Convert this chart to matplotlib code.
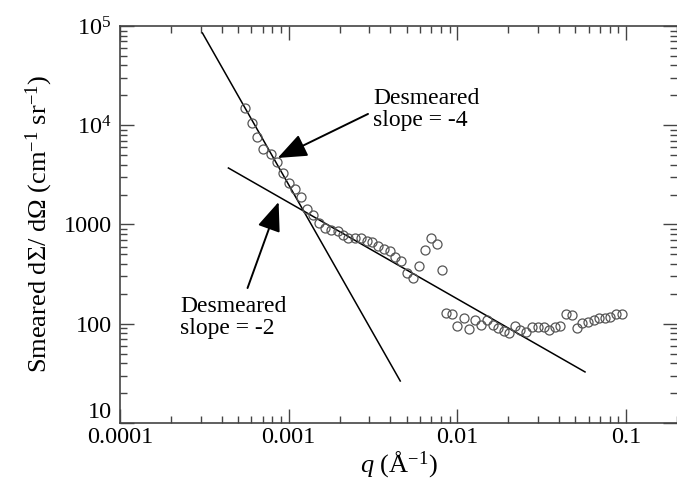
import numpy as np
import matplotlib
matplotlib.use('Agg')
import matplotlib.pyplot as plt
from matplotlib.ticker import NullFormatter

plt.rcParams['font.family'] = ['Liberation Serif', 'DejaVu Serif']
plt.rcParams['mathtext.fontset'] = 'custom'
plt.rcParams['mathtext.rm'] = 'Liberation Serif'
plt.rcParams['mathtext.it'] = 'Liberation Serif:italic'

# %% data
q = [5.47e-4, 6.03e-4, 6.46e-4, 7.00e-4, 7.81e-4, 8.49e-4, 9.21e-4, 1.00e-3,
     1.087e-3, 1.178e-3, 1.279e-3, 1.39e-3, 1.51e-3, 1.64e-3, 1.78e-3, 1.96e-3,
     2.09e-3, 2.24e-3, 2.47e-3, 2.68e-3, 2.91e-3, 3.12e-3, 3.39e-3, 3.67e-3,
     3.99e-3, 4.28e-3, 4.64e-3, 5.04e-3, 5.47e-3, 5.94e-3, 6.46e-3, 7.00e-3,
     7.60e-3, 8.15e-3,
     8.60e-3, 9.34e-3, 1.00e-2, 1.086e-2, 1.163e-2, 1.262e-2, 1.370e-2, 1.488e-2,
     1.615e-2, 1.730e-2, 1.878e-2, 2.012e-2, 2.184e-2, 2.339e-2, 2.540e-2, 2.757e-2,
     2.994e-2, 3.250e-2, 3.481e-2, 3.780e-2, 4.047e-2, 4.394e-2, 4.771e-2, 5.109e-2,
     5.47e-2, 5.94e-2, 6.45e-2, 6.91e-2, 7.50e-2, 8.03e-2, 8.72e-2, 9.47e-2]
intensity = [14930, 10540, 7620, 5770, 5130, 4260, 3300, 2620,
             2280, 1890, 1430, 1250, 1035, 922, 880, 860,
             784, 731, 731, 731, 682, 666, 607, 567,
             541, 471, 429, 325, 289, 382, 554, 731,
             637, 348,
             128, 125, 94.9, 114, 88.5, 109, 97.1, 109,
             97.1, 90.6, 84.5, 80.7, 94.9, 86.5, 82.6, 92.7,
             92.7, 92.7, 86.5, 92.7, 94.9, 125, 122, 90.6,
             102, 104, 109, 114, 114, 117, 125, 125]

# desmeared fits (end points)
fit4_q = [3.08e-4, 4.58e-3]
fit4_I = [8.5e4, 26.5]
fit2_q = [4.39e-4, 0.057]
fit2_I = [3710, 32.7]

xticks = [1e-4, 1e-3, 1e-2, 1e-1]
xticklabels = ['0.0001', '0.001', '0.01', '0.1']
yticks = [10, 100, 1000, 1e4, 1e5]
yticklabels = ['10', '100', '1000', '$10^4$', '$10^5$']

# %% plot
fig = plt.figure(figsize=(6.77, 4.86), dpi=100)
ax = fig.add_axes([120 / 677, 1 - 423 / 486, 557 / 677, 397 / 486])

ax.plot(fit4_q, fit4_I, color='black', lw=1.1, zorder=2)
ax.plot(fit2_q, fit2_I, color='black', lw=1.1, zorder=2)
ax.plot(q, intensity, 'o', mfc='none', mec='#555555', ms=6.5, mew=0.9, zorder=3)

ax.set_xscale('log')
ax.set_yscale('log')
ax.set_xlim(1e-4, 0.2)
ax.set_ylim(10, 1e5)
ax.set_xticks(xticks, xticklabels)
ax.set_yticks(yticks, yticklabels)
ax.xaxis.set_minor_formatter(NullFormatter())
ax.yaxis.set_minor_formatter(NullFormatter())
ax.tick_params(which='both', direction='in', top=True, right=True,
               labelsize=17.5, color='#444444')
ax.tick_params(which='major', length=10, width=1)
ax.tick_params(which='minor', length=5, width=1)
ax.tick_params(axis='y', pad=6)
ax.tick_params(axis='x', pad=3)
ax.get_yticklabels()[0].set_verticalalignment('bottom')
for s in ['top', 'bottom', 'left']:
    ax.spines[s].set_color('#444444')
    ax.spines[s].set_linewidth(1.2)
ax.spines['right'].set_visible(False)

ax.set_ylabel(r'Smeared d$\Sigma$/ d$\Omega$ (cm$^{-1}$ sr$^{-1}$)', fontsize=19, labelpad=6)
ax.set_xlabel(r'$q$ (Å$^{-1}$)', fontsize=19, labelpad=1)

arrow = dict(arrowstyle='-|>,head_length=1.0,head_width=0.4',
             color='black', lw=1.4, mutation_scale=18, shrinkA=0, shrinkB=0)
ax.text(3.16e-3, 2.37e4, 'Desmeared\nslope = -4', fontsize=17,
        ha='left', va='top', linespacing=1.05)
ax.annotate('', xy=(8.6e-4, 4680), xytext=(2.95e-3, 1.30e4), arrowprops=arrow)
ax.text(2.28e-4, 190, 'Desmeared\nslope = -2', fontsize=17,
        ha='left', va='top', linespacing=1.05)
ax.annotate('', xy=(8.71e-4, 1686), xytext=(5.70e-4, 229), arrowprops=arrow)

fig.savefig('out.png', dpi=100)
